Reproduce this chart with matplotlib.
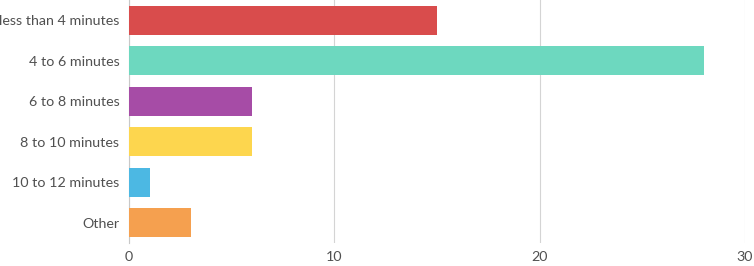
import matplotlib
matplotlib.use("Agg")
import matplotlib.pyplot as plt

categories = ["less than 4 minutes", "4 to 6 minutes", "6 to 8 minutes",
              "8 to 10 minutes", "10 to 12 minutes", "Other"]
values = [15, 28, 6, 6, 1, 3]
colors = ["#d94c4c", "#6dd8bf", "#a64ca6", "#fdd64e", "#4cb8e3", "#f5a04f"]
x_ticks = [0, 10, 20, 30]

plt.rcParams["font.family"] = ["Lato", "DejaVu Sans"]

fig = plt.figure(figsize=(7.54, 2.66), dpi=100)
ax = fig.add_axes([129 / 754, 23 / 266, 616 / 754, 243 / 266])

ypos = list(range(len(categories)))
ax.barh(ypos, values, height=0.72, color=colors, zorder=3)

ax.set_ylim(len(categories) - 0.5, -0.5)
ax.set_xlim(0, 30)
ax.set_yticks(ypos)
ax.set_yticklabels(categories)
ax.set_xticks(x_ticks)

ax.grid(axis="x", color="#d4d4d4", linewidth=0.8, zorder=0)
for s in ["top", "right", "bottom"]:
    ax.spines[s].set_visible(False)
ax.spines["left"].set_color("#c8c8c8")
ax.spines["left"].set_linewidth(0.8)
ax.tick_params(axis="both", length=0, labelsize=10.3, colors="#505050")
ax.tick_params(axis="y", pad=7)
ax.tick_params(axis="x", pad=6)

fig.savefig("out.png", dpi=100)
